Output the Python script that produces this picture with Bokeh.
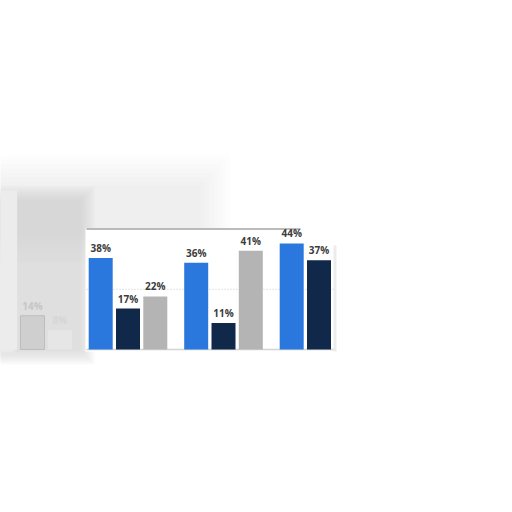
import math
from bokeh.plotting import figure
from bokeh.models import Range1d, ColumnDataSource
from bokeh.embed import file_html
from bokeh.resources import INLINE
from bokeh.core.properties import value

# ---- data ----
groups = ["G0", "G1", "G2", "G3"]
series_blue = [66, 38, 36, 44]
series_navy = [14, 17, 11, 37]
series_gray = [8, 22, 41, float("nan")]
faded_group = [True, False, False, False]
grid_levels = [25]
frame_level = 50

# ---- layout constants (pixels of the page) ----
W = H = 496
ORIGIN = 0
PX_PER_GROUP = 95.5
PX_PER_PCT = 2.41
FIRST_GROUP_PX = 32.0     # page x of center of the first group
BASE_PX = 349.0           # page y of value 0
BAR_STEP = 27.3 / PX_PER_GROUP
BAR_W = 24.0 / PX_PER_GROUP

x_start = -(FIRST_GROUP_PX - ORIGIN) / PX_PER_GROUP
x_end = x_start + W / PX_PER_GROUP
y_end = (BASE_PX - ORIGIN) / PX_PER_PCT
y_start = y_end - H / PX_PER_PCT


def X(px):
    return x_start + (px - ORIGIN) / PX_PER_GROUP


def Y(py):
    return y_end - (py - ORIGIN) / PX_PER_PCT


p = figure(width=W, height=H, x_range=Range1d(x_start, x_end),
           y_range=Range1d(y_start, y_end), output_backend="svg",
           toolbar_location=None, min_border=0)
p.axis.visible = False
p.grid.visible = False
p.outline_line_color = None
p.background_fill_color = "white"
p.border_fill_color = "white"

# ---- blurred background behind the panel (soft gradient by stacking) ----
def soft_box(l, r, t, b, color, alpha, steps, grow):
    for k in range(steps):
        d = grow * (steps - 1 - k) / max(steps - 1, 1)
        p.quad(left=[X(l - d)], right=[X(r + d)], top=[Y(t - d)],
               bottom=[Y(b + d)], fill_color=color,
               fill_alpha=alpha / steps, line_color=None)

soft_box(0, 200, 185, 235, "#d8d8d8", 0.45, 8, 30)
soft_box(0, 80, 200, 350, "#c8c8c8", 0.7, 8, 14)
soft_box(0, 12, 195, 350, "#ffffff", 0.5, 4, 3)

# ---- white panel ----
p.quad(left=[X(85)], right=[X(333)], top=[Y(228)], bottom=[Y(351)],
       fill_color="white", line_color=None)
p.quad(left=[X(333)], right=[X(336)], top=[Y(245)], bottom=[Y(351)],
       fill_color="#e0e0e0", fill_alpha=0.6, line_color=None)

# grid lines inside the panel
p.segment(x0=[X(86)] * len(grid_levels), x1=[X(333)] * len(grid_levels),
          y0=grid_levels, y1=grid_levels, line_color="#c8c8c8",
          line_dash="1 2", line_width=1)
p.segment(x0=[X(86)], x1=[X(300)], y0=[frame_level], y1=[frame_level],
          line_color="#a4a4a4", line_width=1.5)
p.segment(x0=[X(86)], x1=[X(333)], y0=[0], y1=[0],
          line_color="#d4d4d4", line_width=1.5)

# ---- bars ----
colors = ["#2a78de", "#10294a", "#b4b4b4"]
faded_colors = ["#ececec", "#cfcfcf", "#e6e6e6"]
series = [series_blue, series_navy, series_gray]
offsets = [-BAR_STEP, 0.0, BAR_STEP]

for si, (vals, off) in enumerate(zip(series, offsets)):
    xs, tops, fills, lines, labels, lcol = [], [], [], [], [], []
    for gi, v in enumerate(vals):
        if v is None or (isinstance(v, float) and math.isnan(v)):
            continue
        xs.append(gi + off)
        tops.append(v)
        if faded_group[gi]:
            fills.append(faded_colors[si])
            lines.append("#bdbdbd" if si == 1 else None)
            lcol.append("#c6c6c6" if si == 1 else "#d6d6d6")
            labels.append("" if si == 0 else f"{v}%")
        else:
            fills.append(colors[si])
            lines.append(None)
            lcol.append("#3c3c3c")
            labels.append(f"{v}%")
    src = ColumnDataSource(dict(x=xs, top=tops, fill=fills, line=lines,
                                label=labels, lcol=lcol))
    p.vbar(x="x", top="top", bottom=0, width=BAR_W, source=src,
           fill_color="fill", line_color="line", line_width=1)
    p.text(x="x", y="top", text="label", source=src, text_align="center",
           text_baseline="bottom", y_offset=-3, text_color="lcol",
           text_font=value("Open Sans"), text_font_style="bold",
           text_font_size="10px")

open("out.html", "w").write(file_html(p, INLINE))
